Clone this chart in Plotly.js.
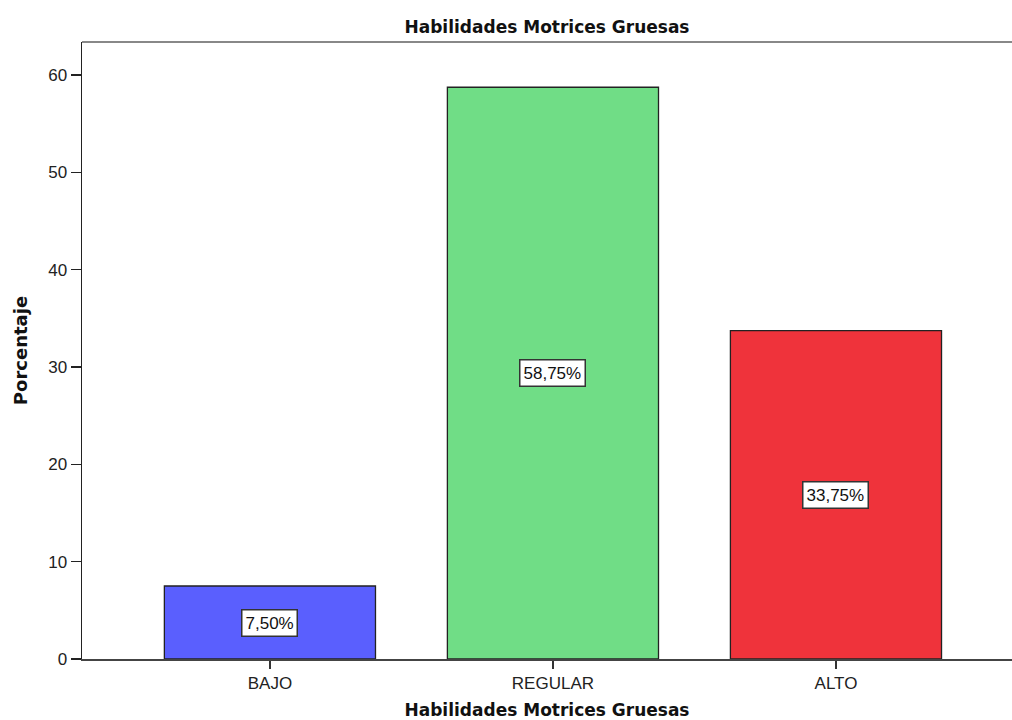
<!DOCTYPE html>
<html>
<head>
<meta charset="utf-8">
<script src="https://cdn.plot.ly/plotly-3.0.1.min.js"></script>
<style>html,body{margin:0;padding:0;background:#fff;}#chart{width:1012px;height:720px;}</style>
</head>
<body>
<div id="chart"></div>
<script>
var categories = ["BAJO", "REGULAR", "ALTO"];
var percentages = [7.50, 58.75, 33.75];
var labels = ["7,50%", "58,75%", "33,75%"];
var colors = ["#5a5ffe", "#70dd86", "#ef333b"];

var trace = {
  type: "bar",
  x: categories,
  y: percentages,
  width: 0.746,
  marker: {color: colors, line: {color: "#222222", width: 1.3}},
  hoverinfo: "none"
};

var annotations = categories.map(function(c, i){
  return {
    x: c, y: percentages[i] / 2, xref: "x", yref: "y",
    text: labels[i], showarrow: false,
    font: {family: "Liberation Sans, Arial", size: 17, color: "#111"},
    bgcolor: "#ffffff", bordercolor: "#333333", borderwidth: 1.5, borderpad: 3
  };
});

var layout = {
  width: 1012, height: 720,
  margin: {l: 82, r: 0, t: 42, b: 61},
  paper_bgcolor: "#ffffff", plot_bgcolor: "#ffffff",
  showlegend: false,
  font: {family: "Liberation Sans, Arial", size: 17, color: "#222"},
  title: {text: "<b>Habilidades Motrices Gruesas</b>", font: {family: "DejaVu Sans", size: 17, color: "#111"}, x: 0.5, xanchor: "center", y: 1 - 27/720, yanchor: "middle", xref: "paper"},
  xaxis: {
    range: [-0.664, 2.622],
    showgrid: false, zeroline: false,
    showline: true, linecolor: "#444444", linewidth: 1.5,
    ticks: "outside", ticklen: 8, tickcolor: "#333", tickwidth: 1.3,
    tickfont: {size: 17, color: "#222"},
    title: {text: "<b>Habilidades Motrices Gruesas</b>", font: {family: "DejaVu Sans", size: 17, color: "#111"}, standoff: 18}
  },
  yaxis: {
    range: [0, 63.4],
    tickvals: [0, 10, 20, 30, 40, 50, 60],
    showgrid: false, zeroline: false,
    showline: true, linecolor: "#222222", linewidth: 1.5,
    ticks: "outside", ticklen: 10, tickcolor: "#222", tickwidth: 1.3,
    tickfont: {size: 17, color: "#222"},
    title: {text: "<b>Porcentaje</b>", font: {family: "DejaVu Sans", size: 18, color: "#111"}, standoff: 16}
  },
  shapes: [{
    type: "line", xref: "paper", yref: "paper", x0: 0, x1: 1, y0: 1, y1: 1,
    line: {color: "#888888", width: 2}
  }],
  annotations: annotations
};

Plotly.newPlot("chart", [trace], layout, {displayModeBar: false, staticPlot: true});
</script>
</body>
</html>
